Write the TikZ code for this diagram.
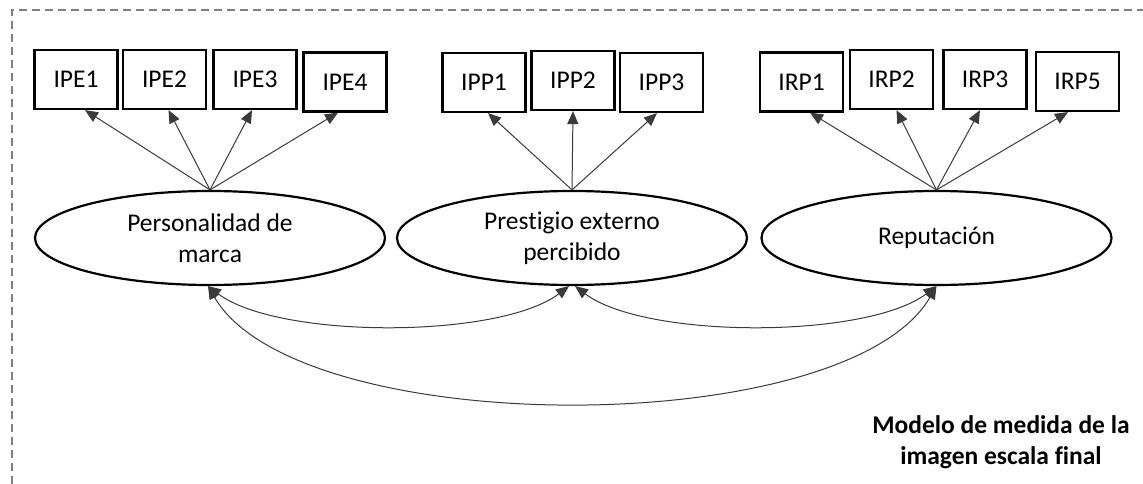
\documentclass[tikz,border=0pt]{standalone}
\usepackage{fontspec}
\setmainfont[Ligatures={NoCommon},Contextuals={NoAlternate}]{Carlito}
\usetikzlibrary{shapes.geometric,arrows.meta}
\definecolor{framegray}{HTML}{808080}
\definecolor{linegray}{HTML}{3A3A3A}
\begin{document}
\begin{tikzpicture}[x=1pt,y=-1pt,
  indbox/.style={draw=black,line width=2.2pt,minimum width=83pt,minimum height=59pt,inner sep=0pt,
    font=\fontsize{25.5}{30}\selectfont},
  latent/.style={ellipse,draw=black,line width=2.2pt,minimum width=350pt,minimum height=94pt,inner sep=0pt,
    align=center,font=\fontsize{25.5}{31}\selectfont},
  load/.style={draw=linegray,line width=1pt,-{Triangle[length=13pt,width=11pt]}},
  cov/.style={draw=linegray,line width=1pt,{Triangle[length=13pt,width=11pt]}-{Triangle[length=13pt,width=11pt]}},
  ttl/.style={align=center,font=\bfseries\fontsize{25.5}{31}\selectfont,inner sep=0pt}]
\useasboundingbox (0,0) rectangle (1143,484);
% dashed frame (partly outside the picture)
\draw[framegray,line width=1.6pt,dash pattern=on 8pt off 5pt] (12,484) -- (12,10) -- (1143,10);

% indicator boxes
\node[indbox] (ipe1) at (76,79.5) {IPE1};
\node[indbox] (ipe2) at (164.5,79.5) {IPE2};
\node[indbox] (ipe3) at (255,79.5) {IPE3};
\node[indbox] (ipe4) at (345,82) {IPE4};
\node[indbox] (ipp1) at (484,82.5) {IPP1};
\node[indbox] (ipp2) at (573,80.5) {IPP2};
\node[indbox] (ipp3) at (661.5,82.5) {IPP3};
\node[indbox] (irp1) at (801.5,82) {IRP1};
\node[indbox] (irp2) at (891.5,79.5) {IRP2};
\node[indbox] (irp3) at (985,79.5) {IRP3};
\node[indbox] (irp5) at (1077.5,81.5) {IRP5};

% latent variables
\node[latent] (pe) at (210,238) {Personalidad de\\marca};
\node[latent] (pp) at (572,238) {Prest\kern0pt igio externo\\percibido};
\node[latent] (rep) at (936.5,238) {Reputación};

% loadings
\draw[load] (pe.north) -- ([xshift=9pt]ipe1.south);
\draw[load] (pe.north) -- ([xshift=4pt]ipe2.south);
\draw[load] (pe.north) -- ([xshift=-3pt]ipe3.south);
\draw[load] (pe.north) -- ([xshift=-7pt]ipe4.south);
\draw[load] (pp.north) -- ([xshift=4pt]ipp1.south);
\draw[load] (pp.north) -- (ipp2.south);
\draw[load] (pp.north) -- ([xshift=-4.5pt]ipp3.south);
\draw[load] (rep.north) -- ([xshift=8.5pt]irp1.south);
\draw[load] (rep.north) -- ([xshift=5pt]irp2.south);
\draw[load] (rep.north) -- ([xshift=-5pt]irp3.south);
\draw[load] (rep.north) -- ([xshift=-9.5pt]irp5.south);

% covariances
\draw[cov] ([xshift=-2pt]pe.south) .. controls +(70,53) and +(-70,53) .. ([xshift=-3pt]pp.south);
\draw[cov] ([xshift=3pt]pp.south) .. controls +(70,53) and +(-70,53) .. (rep.south);
\draw[cov] ([xshift=-2pt]pe.south) .. controls +(90,155) and +(-90,155) .. (rep.south);

% title
\node[ttl] (title) at (1001,442.5) {Modelo de medida de la\\imagen escala final};
\end{tikzpicture}
\end{document}
